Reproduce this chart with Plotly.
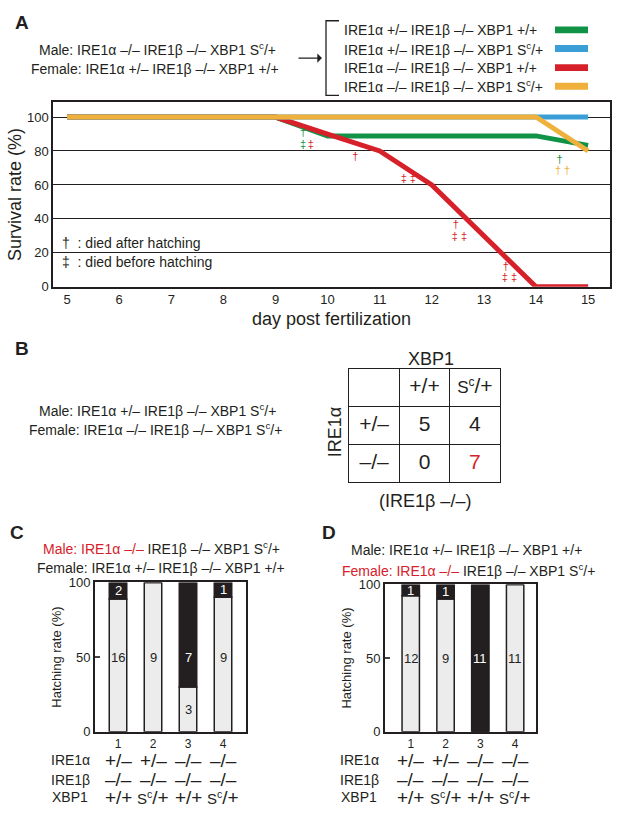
import plotly.graph_objects as go

W, H = 617, 831


def px(x):
    return x / W


def py(y):
    return 1 - y / H


# ---- panel A data ----
days = [5, 6, 7, 8, 9, 10, 11, 12, 13, 14, 15]
series_names = ["IRE1α +/– IRE1β –/– XBP1 +/+",
                "IRE1α +/– IRE1β –/– XBP1 S<sup>c</sup>/+",
                "IRE1α –/– IRE1β –/– XBP1 +/+",
                "IRE1α –/– IRE1β –/– XBP1 S<sup>c</sup>/+"]
series_colors = ["#109347", "#3b9fd7", "#d7212a", "#f0b03c"]
surv_green = [100, 100, 100, 100, 100, 88.9, 88.9, 88.9, 88.9, 88.9, 83.3]
surv_blue = [100, 100, 100, 100, 100, 100, 100, 100, 100, 100, 100]
surv_red = [100, 100, 100, 100, 100, 90, 80, 60, 30, 0, 0]
surv_yellow = [100, 100, 100, 100, 100, 100, 100, 100, 100, 100, 80]

dagger_x = [9.53, 9.53, 9.68, 10.53, 11.55, 12.46, 12.53, 13.42, 13.49, 14.45, 14.51]
dagger_y = [90.6, 83.4, 83.4, 76.1, 63.2, 36.2, 29.3, 11.6, 4.8, 74.6, 67.8]
dagger_text = ["†", "‡", "‡", "†", "‡ ‡", "†", "‡ ‡", "†", "‡ ‡", "†", "† †"]
dagger_series = [0, 0, 2, 2, 2, 2, 2, 2, 2, 0, 3]

# ---- panel B data ----
table_cols = ["+/+", '<span style="font-size:17px">S<sup>c</sup></span>/+']
table_rows = ["+/–", "–/–"]
table_counts = [[5, 4], [0, 7]]
table_red = (1, 1)

# ---- panels C and D data ----
bar_x = [1, 2, 3, 4]
c_hatched = [16, 9, 3, 9]
c_dead = [2, 0, 7, 1]
d_hatched = [12, 9, 0, 11]
d_dead = [1, 1, 11, 0]
geno_rows = ["IRE1α", "IRE1β", "XBP1"]
SC = '<span style="font-size:15px">S<sup>c</sup></span>/+'
geno_vals = [["+/–", "+/–", "–/–", "–/–"],
             ["–/–", "–/–", "–/–", "–/–"],
             ["+/+", SC, "+/+", SC]]

RED = "#d7212a"
BLACK = "#231f20"
GREY = "#ececec"
FONT = "Liberation Sans, Arial, sans-serif"

fig = go.Figure()

# survival lines (draw order: green, red, blue, yellow)
surv = [surv_green, surv_blue, surv_red, surv_yellow]
for i in [0, 2, 1, 3]:
    fig.add_trace(go.Scatter(x=days, y=surv[i], mode="lines",
                             line=dict(color=series_colors[i], width=5),
                             xaxis="x", yaxis="y", showlegend=False))

fig.add_trace(go.Scatter(x=dagger_x, y=dagger_y, mode="text", text=dagger_text,
                         textfont=dict(size=11, color=[series_colors[s] for s in dagger_series]),
                         xaxis="x", yaxis="y", showlegend=False))

# table B
cell_x, cell_y, cell_t, cell_c = [], [], [], []
for j, c in enumerate(table_cols):
    cell_x.append(j + 1.5); cell_y.append(2.5); cell_t.append(c); cell_c.append(BLACK)
for i, r in enumerate(table_rows):
    cell_x.append(0.5); cell_y.append(1.5 - i); cell_t.append(r); cell_c.append(BLACK)
    for j, v in enumerate(table_counts[i]):
        cell_x.append(j + 1.5); cell_y.append(1.5 - i); cell_t.append(str(v))
        cell_c.append(RED if (i, j) == table_red else BLACK)
fig.add_trace(go.Scatter(x=cell_x, y=cell_y, mode="text", text=cell_t,
                         textfont=dict(size=21, color=cell_c),
                         xaxis="x4", yaxis="y4", showlegend=False))

# bars C / D
for hatched, dead, xa, ya in [(c_hatched, c_dead, "x2", "y2"), (d_hatched, d_dead, "x3", "y3")]:
    tot = [h + d for h, d in zip(hatched, dead)]
    ph = [h / t * 100 for h, t in zip(hatched, tot)]
    pd_ = [d / t * 100 for d, t in zip(dead, tot)]
    fig.add_trace(go.Bar(x=bar_x, y=ph, width=0.5, marker=dict(color=GREY, line=dict(color=BLACK, width=1.5)),
                         xaxis=xa, yaxis=ya, showlegend=False))
    fig.add_trace(go.Bar(x=bar_x, y=pd_, base=ph, width=0.5, marker=dict(color=BLACK, line=dict(color=BLACK, width=1.5)),
                         xaxis=xa, yaxis=ya, showlegend=False))
    for k in range(4):
        for n, lo, hi, col in [(hatched[k], 0, ph[k], BLACK), (dead[k], ph[k], 100, "white")]:
            if n == 0:
                continue
            yy = 50 if lo <= 50 <= hi else (lo + hi) / 2
            fig.add_annotation(x=bar_x[k], y=yy, xref=xa, yref=ya, text=str(n), showarrow=False,
                               yanchor="middle", font=dict(size=13, color=col))

ann = []


def txt(x, y, s, size=14, color=BLACK, xanchor="center", **kw):
    ann.append(dict(x=px(x), y=py(y), xref="paper", yref="paper", text=s, showarrow=False,
                    font=dict(size=size, color=color, family=FONT), xanchor=xanchor, yanchor="middle", **kw))


# panel letters
txt(22, 16, "<b>A</b>", 19)
txt(22, 348, "<b>B</b>", 19)
txt(17, 535, "<b>C</b>", 19)
txt(329, 535, "<b>D</b>", 19)

# A cross
txt(157, 43, "Male: IRE1α –/– IRE1β –/– XBP1 S<sup>c</sup>/+")
txt(155, 63, "Female: IRE1α +/– IRE1β –/– XBP1 +/+")
for i, name in enumerate(series_names):
    txt(342, [23.3, 42.3, 61.7, 80.7][i], name, xanchor="left")
txt(60, 240, "†  : died after hatching", xanchor="left")
txt(60, 260, "‡  : died before hatching", xanchor="left")

# B
txt(157, 410, "Male: IRE1α +/– IRE1β –/– XBP1 S<sup>c</sup>/+")
txt(155, 430, "Female: IRE1α –/– IRE1β –/– XBP1 S<sup>c</sup>/+")
txt(431, 358, "XBP1", 18)
txt(335, 433, "IRE1α", 18, textangle=-90)
txt(425, 503, "(IRE1β –/–)", 18)

# C / D titles
red_part = '<span style="color:%s">%s</span>' % (RED, "%s")
txt(161, 551, red_part % "Male: IRE1α –/–" + " IRE1β –/– XBP1 S<sup>c</sup>/+")
txt(161, 571, "Female: IRE1α +/– IRE1β –/– XBP1 +/+")
txt(466, 553, "Male: IRE1α +/– IRE1β –/– XBP1 +/+")
txt(469, 573, red_part % "Female: IRE1α –/–" + " IRE1β –/– XBP1 S<sup>c</sup>/+")

# genotype rows under bars
for xa, lab_x in [("x2", 70), ("x3", 359)]:
    for r, (gy, name) in enumerate(zip([767, 787, 805], geno_rows)):
        txt(lab_x, gy, name, 14)
        for k in range(4):
            ann.append(dict(x=bar_x[k], y=py(gy), xref=xa, yref="paper", text=geno_vals[r][k],
                            showarrow=False, yanchor="middle",
                            font=dict(size=19, color=BLACK, family=FONT)))

# arrow
ann.append(dict(x=px(322), y=py(52), xref="paper", yref="paper", ax=-25, ay=0, text="",
                showarrow=True, arrowhead=1, arrowsize=1.2, arrowwidth=1.3, arrowcolor=BLACK))

for a in ann:
    fig.add_annotation(**a)

shapes = []
# bracket
shapes.append(dict(type="path", xref="paper", yref="paper",
                   path="M %f,%f L %f,%f L %f,%f L %f,%f" % (px(339), py(14), px(326), py(14),
                                                             px(326), py(90), px(339), py(90)),
                   line=dict(color=BLACK, width=1.3)))
# legend swatches
for i, c in enumerate(series_colors):
    yc = [23.3, 42.3, 61.7, 80.7][i]
    shapes.append(dict(type="rect", xref="paper", yref="paper", x0=px(555), x1=px(588),
                       y0=py(yc + 3.5), y1=py(yc - 3.5), fillcolor=c, line=dict(width=0)))
for s in shapes:
    fig.add_shape(**s)

frame = dict(showline=True, mirror=True, linecolor=BLACK, zeroline=False, showgrid=False)

fig.update_layout(
    width=W, height=H, margin=dict(l=0, r=0, t=0, b=0),
    paper_bgcolor="white", plot_bgcolor="white", barmode="overlay",
    font=dict(family=FONT, color=BLACK),
    xaxis=dict(domain=[px(53), px(610)], range=[4.73, 15.42], tickvals=days, ticks="",
               tickfont=dict(size=13), linewidth=1.5,
               title=dict(text="day post fertilization", font=dict(size=18), standoff=6), **frame),
    yaxis=dict(domain=[py(285), py(97)], range=[0, 108.7], tickvals=[0, 20, 40, 60, 80, 100], ticks="",
               tickfont=dict(size=13), linewidth=1.5, showline=True, mirror=True, linecolor=BLACK,
               zeroline=False, showgrid=True, gridcolor=BLACK, gridwidth=1,
               title=dict(text="Survival rate (%)", font=dict(size=18), standoff=1)),
    xaxis2=dict(domain=[px(95), px(246)], range=[0.343, 4.657], tickvals=bar_x, ticks="",
                tickfont=dict(size=12), linewidth=2, anchor="y2", **frame),
    yaxis2=dict(domain=[py(738), py(586)], range=[0, 100], tickvals=[0, 50, 100], ticks="inside",
                ticklen=5, tickwidth=1.5, tickfont=dict(size=13), linewidth=2, anchor="x2",
                title=dict(text="Hatching rate (%)", font=dict(size=13), standoff=4), **frame),
    xaxis3=dict(domain=[px(385), px(536)], range=[0.26, 4.6], tickvals=bar_x, ticks="",
                tickfont=dict(size=12), linewidth=2, anchor="y3", **frame),
    yaxis3=dict(domain=[py(738), py(588)], range=[0, 100], tickvals=[0, 50, 100], ticks="inside",
                ticklen=5, tickwidth=1.5, tickfont=dict(size=13), linewidth=2, anchor="x3",
                title=dict(text="Hatching rate (%)", font=dict(size=13), standoff=4), **frame),
    xaxis4=dict(domain=[px(349), px(500)], range=[0, 3], tickvals=[1, 2], showticklabels=False, ticks="",
                showline=True, mirror=True, linecolor=BLACK, linewidth=1.3, zeroline=False,
                showgrid=True, gridcolor=BLACK, gridwidth=1.3, anchor="y4"),
    yaxis4=dict(domain=[py(484), py(369)], range=[0, 3], tickvals=[1, 2], showticklabels=False, ticks="",
                showline=True, mirror=True, linecolor=BLACK, linewidth=1.3, zeroline=False,
                showgrid=True, gridcolor=BLACK, gridwidth=1.3, anchor="x4"),
)

fig.write_html("out.html", config={"displayModeBar": False},
               post_script="document.body.style.margin='0px';")
